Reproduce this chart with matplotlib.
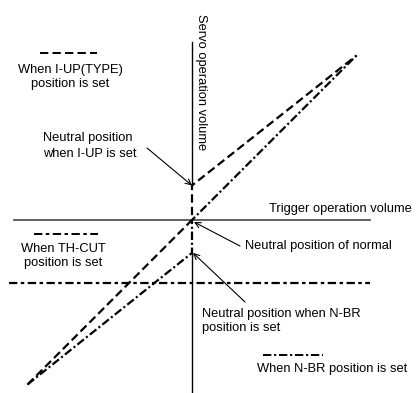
import matplotlib
matplotlib.use("Agg")
import matplotlib.pyplot as plt

plt.rcParams['font.family'] = ['Liberation Sans', 'DejaVu Sans']
plt.rcParams['lines.scale_dashes'] = False

# trigger stroke (%) vs servo travel (%)
trigger = [-100, 0, 100]
servo_normal = [-100, 0, 100]
iup_neutral = 21      # servo neutral offset with I-UP
nbr_neutral = -20     # servo neutral offset with N-BR
thcut_level = -38     # fixed servo position with TH-CUT
axis_x = [-108, 108]
axis_y = [108, -106]

W, H, DPI = 416, 393, 100
ORG = (192, 220)      # origin in pixels
SCALE = 1.645         # pixels per percent

def px(x, y):  # pixel position -> data units
    return (x - ORG[0]) / SCALE, (ORG[1] - y) / SCALE

fig = plt.figure(figsize=(W / DPI, H / DPI), dpi=DPI)
ax = fig.add_axes([0, 0, 1, 1])
x0, y0 = px(0, 0)
x1, y1 = px(W, H)
ax.set_xlim(x0, x1)
ax.set_ylim(y1, y0)
ax.axis("off")

DASH = (0, (6, 3))
DASHDOT = (0, (6, 2, 1.5, 2))
DASHDOTDOT = (0, (6, 2.5, 2.5, 2.5))

# axes
ax.plot(axis_x, [0, 0], color="#555555", lw=1.3)
ax.plot([0, 0], [axis_y[0], iup_neutral], color="black", lw=1.0)
ax.plot([0, 0], [nbr_neutral, axis_y[1]], color="black", lw=1.0)

# I-UP curve: normal on the brake side, shifted neutral on the throttle side
iup_x = [trigger[0], trigger[1], trigger[1], trigger[2]]
iup_y = [servo_normal[0], servo_normal[1], iup_neutral, servo_normal[2]]
ax.plot(iup_x, iup_y, color="black", lw=1.6, ls=DASH)

# N-BR curve: shifted neutral on the brake side, normal on the throttle side
nbr_x = [trigger[0], trigger[1], trigger[1], trigger[2]]
nbr_y = [servo_normal[0], nbr_neutral, servo_normal[1], servo_normal[2]]
ax.plot(nbr_x, nbr_y, color="black", lw=1.6, ls=DASHDOT)

# TH-CUT level
ax.plot([px(9, 0)[0], px(370, 0)[0]], [thcut_level, thcut_level],
        color="black", lw=1.6, ls=DASHDOTDOT)

fs = 9.3
ax.text(*px(201, 82), "Servo operation volume", rotation=270,
        ha="center", va="center", fontsize=fs)
ax.text(*px(340, 209), "Trigger operation volume",
        ha="center", va="center", fontsize=fs)

# legend keys
ax.plot(*zip(px(40, 53), px(97, 53)), color="black", lw=1.4, ls=DASH)
ax.text(*px(70, 77), "When I-UP(TYPE)\nposition is set",
        ha="center", va="center", fontsize=fs, linespacing=1.25)
ax.plot(*zip(px(34, 234), px(98, 234)), color="black", lw=1.4, ls=DASHDOTDOT)
ax.text(*px(63, 256), "When TH-CUT\nposition is set",
        ha="center", va="center", fontsize=fs, linespacing=1.25)
ax.plot(*zip(px(263, 355), px(323, 355)), color="black", lw=1.4, ls=DASHDOT)
ax.text(*px(332, 369), "When N-BR position is set",
        ha="center", va="center", fontsize=fs)

# callouts
arrow = dict(arrowstyle="->", color="black", lw=0.8, shrinkA=0, shrinkB=0)
ax.text(*px(43, 146), "Neutral position\nwhen I-UP is set",
        ha="left", va="center", fontsize=fs, linespacing=1.35)
ax.annotate("", xy=(0, iup_neutral), xytext=px(147, 148), arrowprops=arrow)

ax.text(*px(245, 246), "Neutral position of normal",
        ha="left", va="center", fontsize=fs)
ax.annotate("", xy=px(194, 222), xytext=px(240, 246), arrowprops=arrow)

ax.text(*px(202, 321), "Neutral position when N-BR\nposition is set",
        ha="left", va="center", fontsize=fs, linespacing=1.25)
ax.annotate("", xy=(px(193, 0)[0], nbr_neutral), xytext=px(245, 302),
            arrowprops=arrow)

fig.savefig("out.png", dpi=DPI, facecolor="white")
